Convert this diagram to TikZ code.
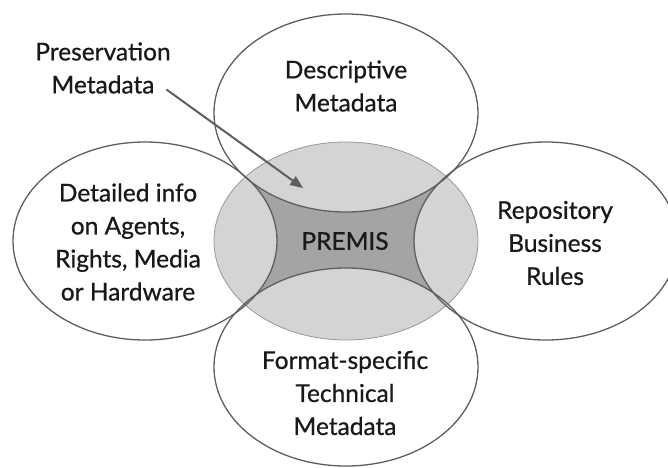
\documentclass[tikz,border=0pt]{standalone}
\usepackage{fontspec}
\setmainfont[FakeBold=0.7]{Lato}
\usetikzlibrary{arrows}
\definecolor{lightgrey}{HTML}{D4D4D4}
\definecolor{darkgrey}{HTML}{A4A4A4}
\definecolor{rimgrey}{HTML}{5E5E5E}
\definecolor{edgegrey}{HTML}{9A9A9A}
\tikzset{
  label/.style={align=center,inner sep=0pt,text=black!90,font=\fontsize{24.5}{33}\selectfont},
  blob/.style={x radius=132,y radius=99}
}

\begin{document}
\begin{tikzpicture}[line cap=round,line join=round,>=triangle 45,x=1pt,y=1pt]
\useasboundingbox (0,0) rectangle (668,-467);
% ellipsien keskipisteet
\coordinate (mid) at (346,-241);
\coordinate (top) at (346,-113);
\coordinate (left) at (145,-241);
\coordinate (right) at (546,-241);
\coordinate (bottom) at (346,-367);

% keskiellipsi, tumma osa jaa yli
\fill[darkgrey] (mid) ellipse [blob];
\begin{scope}
\clip (mid) ellipse [blob];
\foreach \p in {top,left,right,bottom}
{
\fill[lightgrey] (\p) ellipse [blob];
}
\end{scope}
\draw[color=edgegrey,line width=0.8pt] (mid) ellipse [blob];

% reunaviivat
\foreach \p in {top,left,right,bottom}
{
\draw[color=rimgrey,line width=1.3pt] (\p) ellipse [blob];
}

% tekstit
\node [label] (pres) at (103,-68) {Preservation\\Metadata};
\node [label] (desc) at (346,-86) {Descriptive\\Metadata};
\node [label] (detail) at (128,-242) {Detailed info\\on Agents,\\Rights, Media\\or Hardware};
\node [label] (premis) at (345,-241) {PREMIS};
\node [label] (repo) at (555,-243) {Repository\\Business\\Rules};
\node [label] (format) at (345,-393) {Format-specific\\Technical\\Metadata};

% nuoli
\coordinate (tip) at (303,-188);
\draw[->,color=rimgrey,line width=2pt] ([shift={(-4,4)}]pres.south east) -- (tip);
\end{tikzpicture}
\end{document}
